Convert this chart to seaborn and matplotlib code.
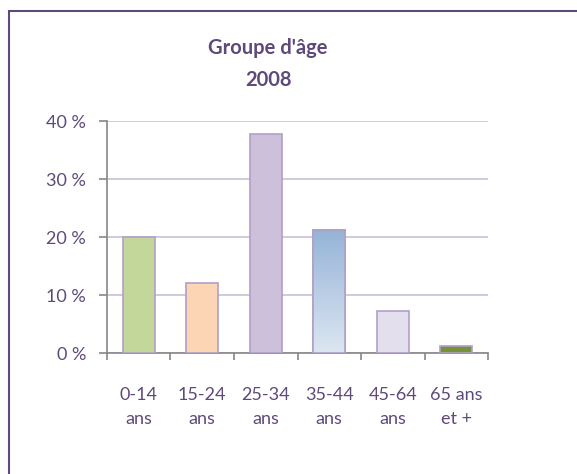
import numpy as np
import pandas as pd
import seaborn as sns
import matplotlib.pyplot as plt
from matplotlib.patches import Rectangle
from matplotlib.colors import LinearSegmentedColormap

categories = ['0-14\nans', '15-24\nans', '25-34\nans', '35-44\nans', '45-64\nans', '65 ans\net +']
shares = [20.1, 12.1, 37.8, 21.2, 7.3, 1.3]
bar_colors = ['#c4d79b', '#fcd5b4', '#ccc0da', '#95b3d7', '#e4dfec', '#76933c']
yticks = [0, 10, 20, 30, 40]

df = pd.DataFrame({'groupe': categories, 'part': shares})

sns.set_style('white')
plt.rcParams['font.family'] = ['Lato', 'DejaVu Sans']
text_col = '#5f497a'

fig = plt.figure(figsize=(5.77, 4.74), dpi=100)
ax = fig.add_axes([0.1854, 0.2546, 0.6604, 0.4901])

sns.barplot(data=df, x='groupe', y='part', hue='groupe', palette=bar_colors,
            legend=False, width=0.5, edgecolor='#b1a0c7', linewidth=1.2,
            saturation=1, ax=ax, zorder=3)

# vertical gradient on the 35-44 bar
bar = ax.patches[3]
bx, by = bar.get_x(), bar.get_y()
bw, bh = bar.get_width(), bar.get_height()
grad = np.linspace(0, 1, 256).reshape(-1, 1)
cm = LinearSegmentedColormap.from_list('g', ['#dce6f1', '#95b3d7'])
im = ax.imshow(grad, cmap=cm, aspect='auto', origin='lower',
               extent=[bx, bx + bw, by, by + bh], zorder=3.5)
im.set_clip_path(bar)
ax.add_patch(Rectangle((bx, by), bw, bh, fill=False, edgecolor='#b1a0c7',
                       linewidth=1.2, zorder=4))

ax.set_xlim(-0.5, len(categories) - 0.5)
ax.set_ylim(0, 40)
ax.set_yticks(yticks)
ax.set_yticklabels([f'{v} %' for v in yticks])
ax.set_xlabel('')
ax.set_ylabel('')
ax.yaxis.grid(True, color='#ccc0da', linewidth=1.2, zorder=0)
ax.set_axisbelow(True)

for s in ['top', 'right']:
    ax.spines[s].set_visible(False)
for s in ['left', 'bottom']:
    ax.spines[s].set_color('#868686')
    ax.spines[s].set_linewidth(1.2)

ax.tick_params(axis='y', length=6, width=1.2, color='#868686', labelcolor=text_col,
               labelsize=13, pad=9, left=True)
ax.set_xticks(np.arange(len(categories) + 1) - 0.5, minor=True)
ax.tick_params(axis='x', which='minor', length=5, width=1.2, color='#868686', bottom=True)
ax.tick_params(axis='x', which='major', length=0, labelcolor=text_col, labelsize=13, pad=24)
for lbl in ax.get_xticklabels():
    lbl.set_linespacing(1.65)

fig.text(0.4645, 0.865, "Groupe d'âge\n2008", ha='center', va='center', fontsize=14.5,
         fontweight='bold', color=text_col, linespacing=1.75)

fig.patches.append(Rectangle((9 / 577, -0.05), 1.0, 1 - 11 / 474 + 0.05,
                             transform=fig.transFigure, fill=False,
                             edgecolor='#5f497a', linewidth=1.5))

fig.savefig('out.png', dpi=100)
